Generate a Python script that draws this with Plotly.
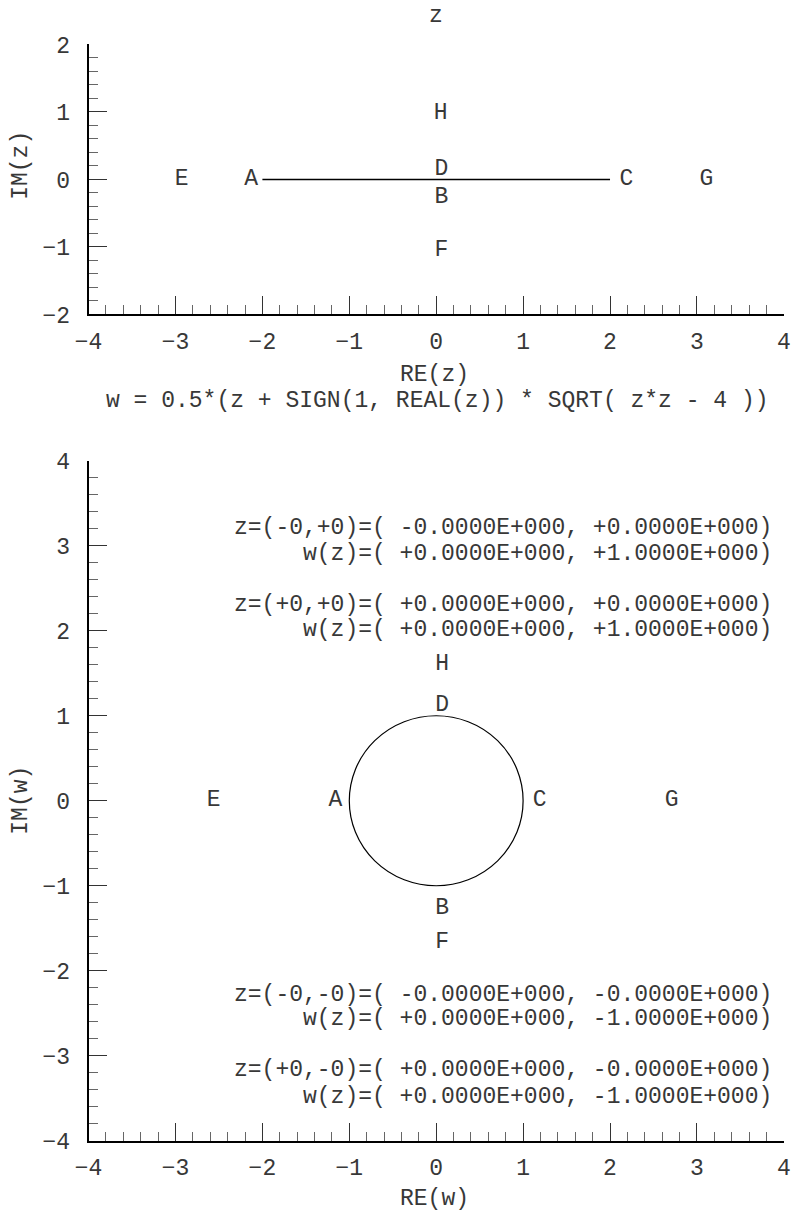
import plotly.graph_objects as go

FONT = "Liberation Mono"
INK = "#383838"
FS = 23

# ---- z-plane: the cut along the real axis and the labelled points ----
cut_re = [-2.0, 2.0]
cut_im = [0.0, 0.0]
z_labels = ["E", "A", "C", "G", "H", "D", "B", "F"]
z_label_re = [-2.93, -2.13, 2.19, 3.11, 0.05, 0.06, 0.06, 0.06]
z_label_im = [0.0, 0.0, 0.0, 0.0, 0.98, 0.15, -0.26, -1.05]

# ---- w-plane: image of the cut (unit circle) and the labelled points ----
circle_center = [0.0, 0.0]
circle_radius = 1.0
w_labels = ["E", "A", "C", "G", "H", "D", "B", "F"]
w_label_re = [-2.56, -1.16, 1.19, 2.71, 0.07, 0.07, 0.07, 0.07]
w_label_im = [0.0, 0.0, 0.0, 0.0, 1.61, 1.125, -1.26, -1.66]

# printed values of w at the signed zeros
value_lines = [
    "z=(-0,+0)=( -0.0000E+000, +0.0000E+000)",
    "w(z)=( +0.0000E+000, +1.0000E+000)",
    "z=(+0,+0)=( +0.0000E+000, +0.0000E+000)",
    "w(z)=( +0.0000E+000, +1.0000E+000)",
    "z=(-0,-0)=( -0.0000E+000, -0.0000E+000)",
    "w(z)=( +0.0000E+000, -1.0000E+000)",
    "z=(+0,-0)=( +0.0000E+000, -0.0000E+000)",
    "w(z)=( +0.0000E+000, -1.0000E+000)",
]
value_line_im = [3.205, 2.90, 2.30, 2.005, -2.28, -2.57, -3.17, -3.48]
value_line_re = 3.89

# ---- axis ticks ----
re_ticks = [-4, -3, -2, -1, 0, 1, 2, 3, 4]
z_im_ticks = [-2, -1, 0, 1, 2]
w_im_ticks = [-4, -3, -2, -1, 0, 1, 2, 3, 4]

W, H = 799, 1230
x_dom = [76.6 / W, 790.6 / W]
y1_dom = [(H - 310.0) / H, (H - 34.2) / H]
y2_dom = [(H - 1154.2) / H, (H - 459.4) / H]

fig = go.Figure()

fig.add_trace(go.Scatter(
    x=cut_re, y=cut_im, mode="lines",
    line=dict(color="black", width=1.4),
    xaxis="x", yaxis="y", hoverinfo="skip",
))
fig.add_trace(go.Scatter(
    x=z_label_re, y=z_label_im, mode="text", text=z_labels,
    textfont=dict(family=FONT, size=FS, color=INK),
    textposition="middle center", xaxis="x", yaxis="y", hoverinfo="skip",
))
fig.add_trace(go.Scatter(
    x=w_label_re, y=w_label_im, mode="text", text=w_labels,
    textfont=dict(family=FONT, size=FS, color=INK),
    textposition="middle center", xaxis="x2", yaxis="y2", hoverinfo="skip",
))

fig.add_shape(
    type="circle", xref="x2", yref="y2",
    x0=circle_center[0] - circle_radius, x1=circle_center[0] + circle_radius,
    y0=circle_center[1] - circle_radius, y1=circle_center[1] + circle_radius,
    line=dict(color="black", width=1.2),
)

for txt, yv in zip(value_lines, value_line_im):
    fig.add_annotation(
        x=value_line_re, y=yv, xref="x2", yref="y2", text=txt,
        showarrow=False, xanchor="right", yanchor="middle",
        font=dict(family=FONT, size=FS, color=INK),
    )

def titled(text, px, py, angle=0):
    fig.add_annotation(
        x=px / W, y=1 - py / H, xref="paper", yref="paper", text=text,
        showarrow=False, xanchor="center", yanchor="middle", textangle=angle,
        font=dict(family=FONT, size=FS, color=INK),
    )

titled("z", 433.6, 5.0)
titled("RE(z)", 431.6, 371.8)
titled("IM(z)", 7.0, 157.3, -90)
titled("w = 0.5*(z + SIGN(1, REAL(z)) * SQRT( z*z - 4 ))", 434.6, 398.4)
titled("RE(w)", 431.6, 1213.5)
titled("IM(w)", 7.0, 805.9, -90)

axis_common = dict(
    showline=True, linewidth=2, linecolor="black",
    showgrid=False, zeroline=False,
    ticks="inside", ticklen=18, tickwidth=1, tickcolor="#333333",
    minor=dict(ticks="inside", ticklen=9, tickwidth=1, tickcolor="#666666",
               dtick=0.2, showgrid=False),
    tickfont=dict(family=FONT, size=FS, color=INK),
    fixedrange=True,
)

fig.update_layout(
    width=W, height=H,
    margin=dict(l=0, r=0, t=0, b=0),
    paper_bgcolor="white", plot_bgcolor="white",
    showlegend=False,
    xaxis=dict(domain=x_dom, range=[-4, 4], anchor="y",
               tickvals=re_ticks, ticklabelstandoff=5, **axis_common),
    yaxis=dict(domain=y1_dom, range=[-2, 2], anchor="x",
               tickvals=z_im_ticks, ticklabelstandoff=12, **axis_common),
    xaxis2=dict(domain=x_dom, range=[-4, 4], anchor="y2",
                tickvals=re_ticks, ticklabelstandoff=5, **axis_common),
    yaxis2=dict(domain=y2_dom, range=[-4, 4], anchor="x2",
                tickvals=w_im_ticks, ticklabelstandoff=12, **axis_common),
)

fig.write_html("out.html")
